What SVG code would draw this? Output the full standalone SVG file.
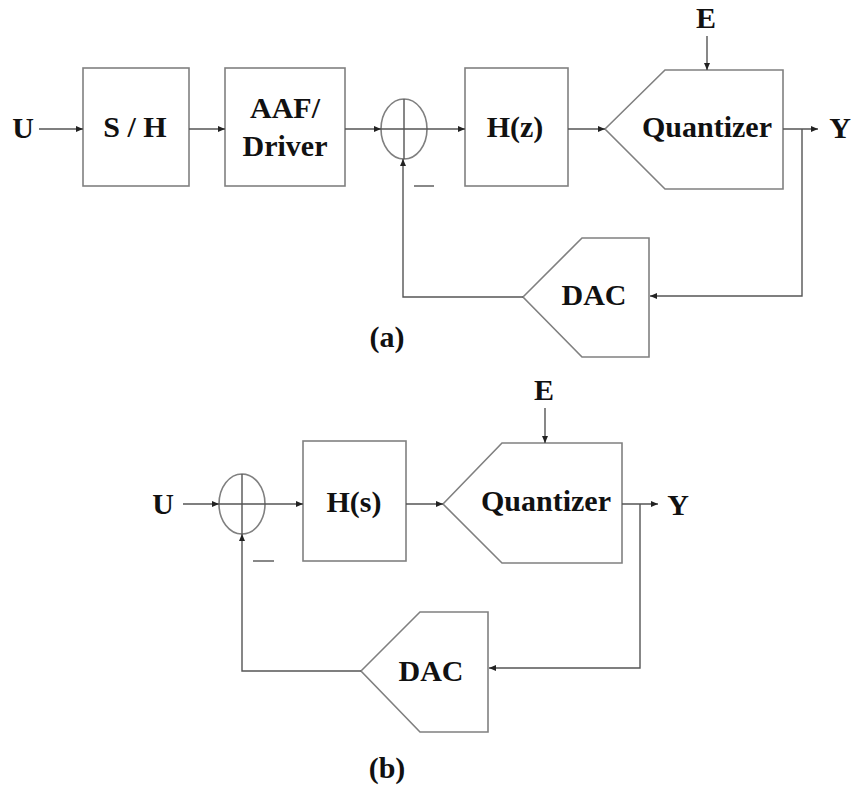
<svg xmlns="http://www.w3.org/2000/svg" width="852" height="786" viewBox="0 0 852 786">
<style>
.blk{fill:#fff;stroke:#808080;stroke-width:1.6}
.ln{fill:none;stroke:#555;stroke-width:1.4}
.t{font-family:"Liberation Serif","Times New Roman",serif;font-weight:bold;font-size:30px;fill:#111;text-anchor:middle}
</style>
<defs>
<marker id="ah" markerWidth="8" markerHeight="6" refX="7" refY="3" orient="auto" markerUnits="userSpaceOnUse">
<path d="M0,0 L7,3 L0,6 Z" fill="#222"/>
</marker>
</defs>
<rect width="852" height="786" fill="#fff"/>

<!-- (a) -->
<g id="a_U"><text class="t" x="23" y="138">U</text></g>
<g id="a_SH"><rect class="blk" x="83" y="68" width="106" height="118"/><text class="t" x="135" y="137">S / H</text></g>
<g id="a_AAF"><rect class="blk" x="225" y="68" width="120" height="118"/><text class="t" x="285" y="118">AAF/</text><text class="t" x="285" y="156">Driver</text></g>
<g id="a_sum"><ellipse class="blk" cx="404" cy="129" rx="23" ry="30"/><path class="ln" d="M381,129 H427 M404,99 V159"/></g>
<g id="a_minus"><path class="ln" d="M414,186 H434" stroke-width="1.6"/></g>
<g id="a_Hz"><rect class="blk" x="465" y="68" width="103" height="118"/><text class="t" x="515" y="137">H(z)</text></g>
<g id="a_Q"><polygon class="blk" points="605,129 665,70 783,70 783,189 665,189"/><text class="t" x="707" y="137">Quantizer</text></g>
<g id="a_E"><text class="t" x="706" y="28">E</text></g>
<g id="a_Y"><text class="t" x="840" y="138">Y</text></g>
<g id="a_DAC"><polygon class="blk" points="523,297 582,238 649,238 649,357 582,357"/><text class="t" x="594" y="305">DAC</text></g>
<g id="a_label"><text class="t" x="387" y="347">(a)</text></g>

<!-- (b) -->
<g id="b_U"><text class="t" x="163" y="514">U</text></g>
<g id="b_sum"><ellipse class="blk" cx="242" cy="504" rx="23" ry="30"/><path class="ln" d="M219,504 H265 M242,474 V534"/></g>
<g id="b_minus"><path class="ln" d="M253,561 H274" stroke-width="1.6"/></g>
<g id="b_Hs"><rect class="blk" x="303" y="441" width="103" height="120"/><text class="t" x="354" y="512">H(s)</text></g>
<g id="b_Q"><polygon class="blk" points="443,504 502,443 622,443 622,563 502,563"/><text class="t" x="546" y="511">Quantizer</text></g>
<g id="b_E"><text class="t" x="544" y="400">E</text></g>
<g id="b_Y"><text class="t" x="678" y="515">Y</text></g>
<g id="b_DAC"><polygon class="blk" points="361,671 420,612 488,612 488,732 420,732"/><text class="t" x="431" y="681">DAC</text></g>
<g id="b_label"><text class="t" x="387" y="778">(b)</text></g>

<g id="connectors">
<!-- a -->
<path class="ln" d="M39,129 H83" marker-end="url(#ah)"/>
<path class="ln" d="M189,129 H225" marker-end="url(#ah)"/>
<path class="ln" d="M345,129 H381" marker-end="url(#ah)"/>
<path class="ln" d="M427,129 H465" marker-end="url(#ah)"/>
<path class="ln" d="M568,129 H605" marker-end="url(#ah)"/>
<path class="ln" d="M707,36 V70" marker-end="url(#ah)"/>
<path class="ln" d="M783,129 H818" marker-end="url(#ah)"/>
<path class="ln" d="M802,129 V296 H650" marker-end="url(#ah)"/>
<path class="ln" d="M523,297 H403 V159" marker-end="url(#ah)"/>
<!-- b -->
<path class="ln" d="M183,504 H219" marker-end="url(#ah)"/>
<path class="ln" d="M265,504 H303" marker-end="url(#ah)"/>
<path class="ln" d="M406,504 H443" marker-end="url(#ah)"/>
<path class="ln" d="M545,408 V443" marker-end="url(#ah)"/>
<path class="ln" d="M622,504 H658" marker-end="url(#ah)"/>
<path class="ln" d="M640,504 V668 H489" marker-end="url(#ah)"/>
<path class="ln" d="M361,671 H242 V534" marker-end="url(#ah)"/>
</g>
</svg>
